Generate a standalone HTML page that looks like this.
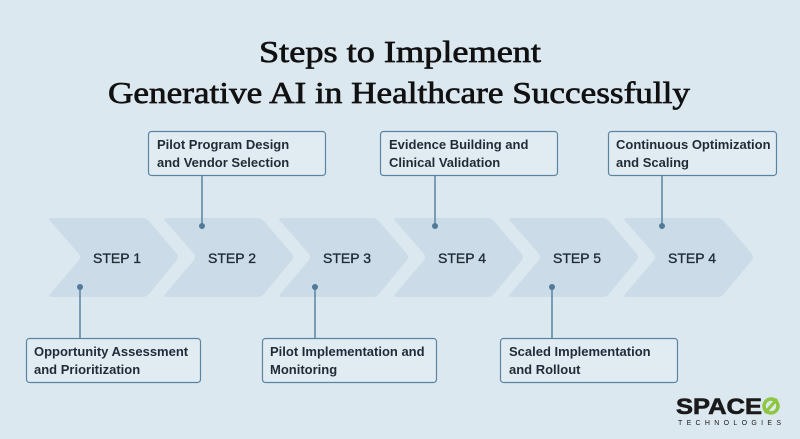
<!DOCTYPE html>
<html><head><meta charset="utf-8"><style>
html,body{margin:0;padding:0;background:#dce8f0;}
svg{display:block}
.b{font-family:"Liberation Sans",sans-serif;font-weight:bold;font-size:13px;fill:#1f2b36}
.s{font-family:"Liberation Sans",sans-serif;font-size:14px;fill:#1f2b36;stroke:#1f2b36;stroke-width:0.35}
.t{font-family:"Liberation Serif",serif;font-size:31px;fill:#111;stroke:#111;stroke-width:0.7}
</style></head><body>
<svg width="800" height="439" viewBox="0 0 800 439" xmlns="http://www.w3.org/2000/svg">
<rect width="800" height="439" fill="#dce8f0"/>
<text class="t" x="400" y="62" text-anchor="middle" textLength="282" lengthAdjust="spacingAndGlyphs">Steps to Implement</text>
<text class="t" x="399" y="103" text-anchor="middle" textLength="582" lengthAdjust="spacingAndGlyphs">Generative AI in Healthcare Successfully</text>
<g fill="#cbdce8">
<path d="M52 218 H143 Q146 218 149 221 L177 254 Q179 257 177 260 L149 294 Q146 297 143 297 H52 Q47 297 51 293 L79 260 Q81 257 79 254 L51 222 Q47 218 52 218Z"/>
<path transform="translate(115,0)" d="M52 218 H143 Q146 218 149 221 L177 254 Q179 257 177 260 L149 294 Q146 297 143 297 H52 Q47 297 51 293 L79 260 Q81 257 79 254 L51 222 Q47 218 52 218Z"/>
<path transform="translate(230,0)" d="M52 218 H143 Q146 218 149 221 L177 254 Q179 257 177 260 L149 294 Q146 297 143 297 H52 Q47 297 51 293 L79 260 Q81 257 79 254 L51 222 Q47 218 52 218Z"/>
<path transform="translate(345,0)" d="M52 218 H143 Q146 218 149 221 L177 254 Q179 257 177 260 L149 294 Q146 297 143 297 H52 Q47 297 51 293 L79 260 Q81 257 79 254 L51 222 Q47 218 52 218Z"/>
<path transform="translate(460,0)" d="M52 218 H143 Q146 218 149 221 L177 254 Q179 257 177 260 L149 294 Q146 297 143 297 H52 Q47 297 51 293 L79 260 Q81 257 79 254 L51 222 Q47 218 52 218Z"/>
<path transform="translate(575,0)" d="M52 218 H143 Q146 218 149 221 L177 254 Q179 257 177 260 L149 294 Q146 297 143 297 H52 Q47 297 51 293 L79 260 Q81 257 79 254 L51 222 Q47 218 52 218Z"/>
</g>
<g text-anchor="middle">
<text class="s" x="117" y="263">STEP 1</text>
<text class="s" x="232" y="263">STEP 2</text>
<text class="s" x="347" y="263">STEP 3</text>
<text class="s" x="462" y="263">STEP 4</text>
<text class="s" x="577" y="263">STEP 5</text>
<text class="s" x="692" y="263">STEP 4</text>
</g>
<g stroke="#5a84a1" stroke-width="1.5" fill="none">
<line x1="202" y1="175" x2="202" y2="226"/>
<line x1="435" y1="175" x2="435" y2="226"/>
<line x1="662" y1="175" x2="662" y2="226"/>
<line x1="80" y1="287" x2="80" y2="338"/>
<line x1="315" y1="287" x2="315" y2="338"/>
<line x1="552" y1="287" x2="552" y2="338"/>
</g>
<g fill="#4f7a98">
<circle cx="202" cy="226" r="3"/><circle cx="435" cy="226" r="3"/><circle cx="662" cy="226" r="3"/>
<circle cx="80" cy="287" r="3"/><circle cx="315" cy="287" r="3"/><circle cx="552" cy="287" r="3"/>
</g>
<g fill="#e1ebf2" stroke="#5a84a1" stroke-width="1.2">
<rect x="148.5" y="131.5" width="177" height="44" rx="3"/>
<rect x="380.5" y="131.5" width="177" height="44" rx="3"/>
<rect x="608.5" y="131.5" width="168" height="44" rx="3"/>
<rect x="26.5" y="338.5" width="174" height="44" rx="3"/>
<rect x="262.5" y="338.5" width="174" height="44" rx="3"/>
<rect x="500.5" y="338.5" width="177" height="44" rx="3"/>
</g>
<text class="b" x="157" y="149">Pilot Program Design</text>
<text class="b" x="157" y="167">and Vendor Selection</text>
<text class="b" x="389" y="149">Evidence Building and</text>
<text class="b" x="389" y="167">Clinical Validation</text>
<text class="b" x="616" y="149">Continuous Optimization</text>
<text class="b" x="616" y="167">and Scaling</text>
<text class="b" x="34" y="356">Opportunity Assessment</text>
<text class="b" x="34" y="374">and Prioritization</text>
<text class="b" x="270" y="356">Pilot Implementation and</text>
<text class="b" x="270" y="374">Monitoring</text>
<text class="b" x="509" y="356">Scaled Implementation</text>
<text class="b" x="509" y="374">and Rollout</text>
<text x="676" y="414" font-family="Liberation Sans,sans-serif" font-weight="bold" font-size="22" fill="#1a1a1a" stroke="#1a1a1a" stroke-width="0.6" textLength="86" lengthAdjust="spacingAndGlyphs">SPACE</text>
<circle cx="771" cy="406" r="7" fill="none" stroke="#8dc63f" stroke-width="3.5"/>
<line x1="765" y1="413" x2="777" y2="399" stroke="#8dc63f" stroke-width="3"/>
<text x="678" y="425" font-family="Liberation Sans,sans-serif" font-size="7" fill="#1a1a1a" textLength="103" lengthAdjust="spacing">TECHNOLOGIES</text>
</svg>
</body></html>
